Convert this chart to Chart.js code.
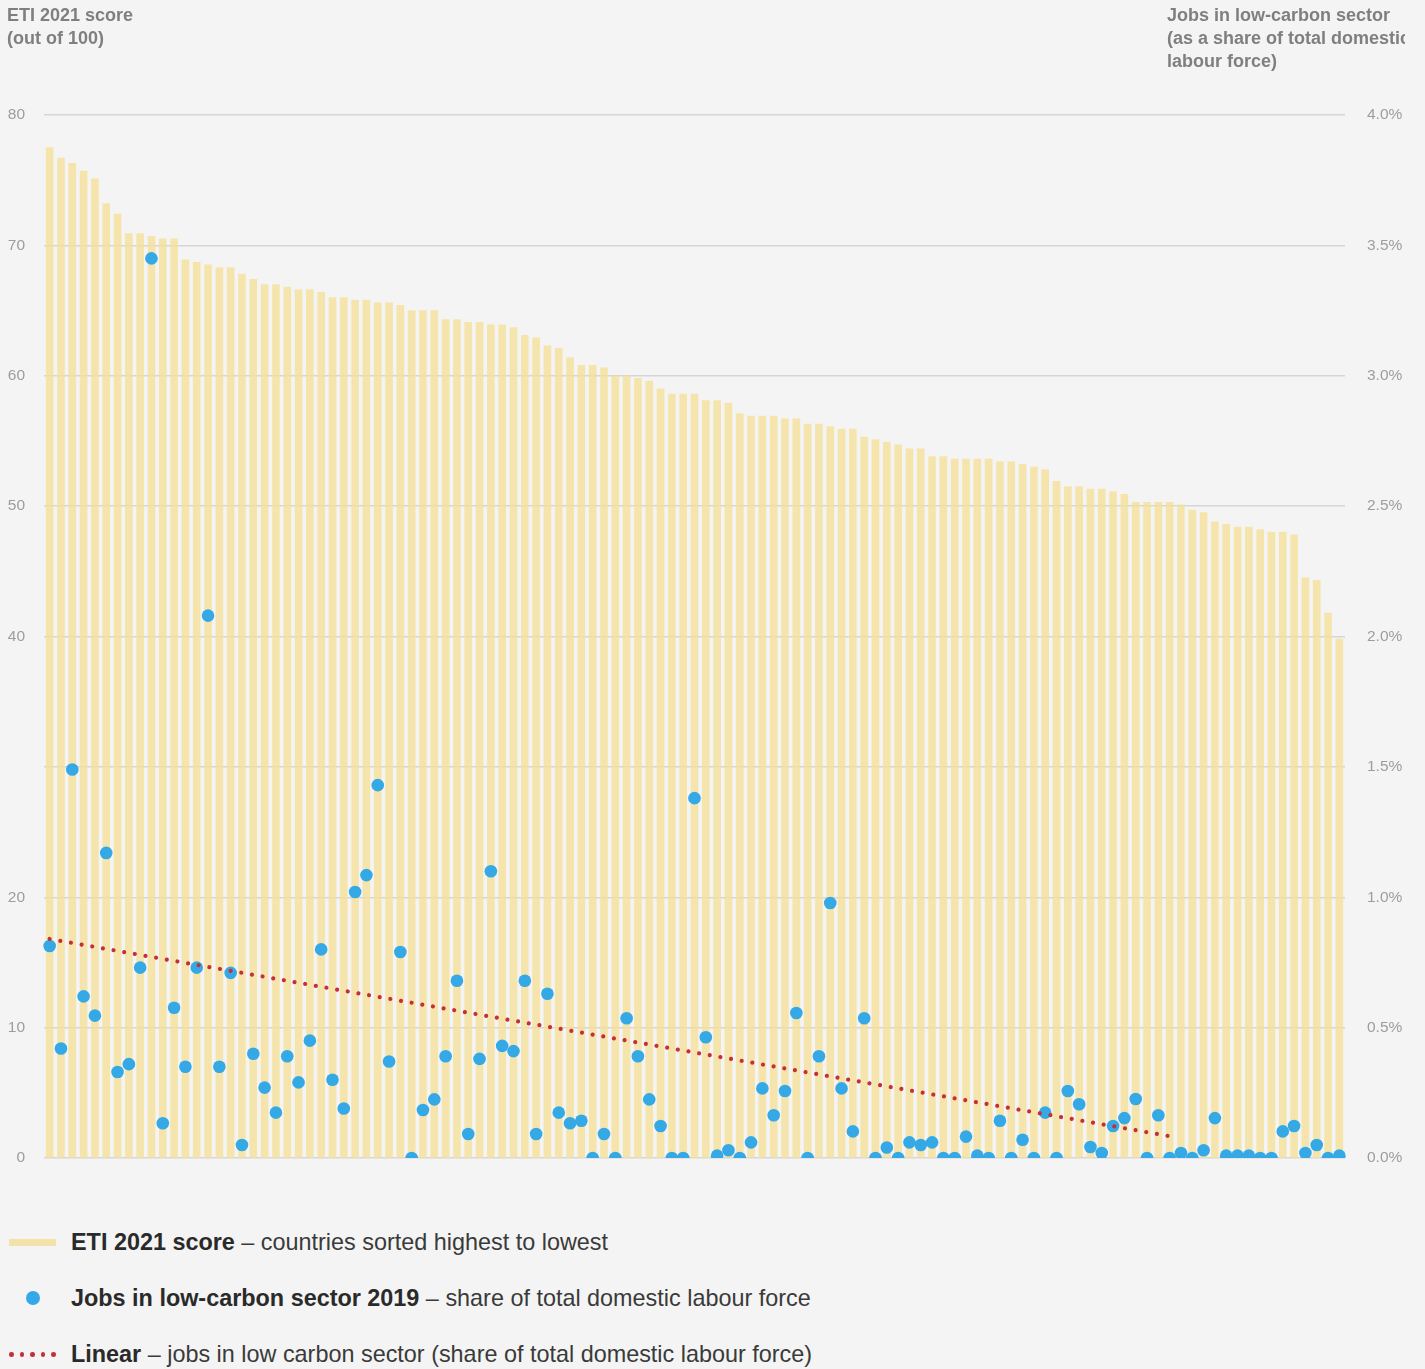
<!DOCTYPE html>
<html>
<head>
<meta charset="utf-8">
<script src="https://cdn.jsdelivr.net/npm/chart.js@4.4.1/dist/chart.umd.min.js"></script>
<style>
  html, body {
    margin: 0;
    padding: 0;
    width: 1425px;
    height: 1369px;
    overflow: hidden;
    background: #f4f4f4;
    font-family: "Liberation Sans", Arial, sans-serif;
  }
  #wrap { position: relative; width: 1425px; height: 1369px; }
  #chart { position: absolute; left: 0; top: 0; }
  .axis-title {
    position: absolute;
    font-size: 18px;
    line-height: 23px;
    font-weight: bold;
    color: #7f7f7f;
    white-space: nowrap;
    overflow: hidden;
  }
  .legend-row {
    position: absolute;
    left: 0;
    height: 23px;
    font-size: 23.4px;
    line-height: 23px;
    color: #3a3a3a;
    white-space: nowrap;
  }
  .legend-row b { color: #2a2a2a; }
  .legend-row .txt { position: absolute; left: 71px; top: 0; }
  .swatch-bar { position: absolute; left: 9px; top: 8px; width: 47px; height: 7px; background: #f4e3a9; }
  .swatch-dot { position: absolute; left: 26px; top: 4px; width: 14px; height: 14px; border-radius: 50%; background: #34a9e6; }
  .swatch-trend span { position: absolute; top: 9px; width: 4.5px; height: 4.5px; border-radius: 50%; background: #c62f3a; }
</style>
</head>
<body>
<div id="wrap">
  <canvas id="chart" width="1425" height="1175"></canvas>

  <div class="axis-title" style="left:7px; top:4px;">ETI 2021 score<br>(out of 100)</div>
  <div class="axis-title" style="left:1167px; top:4px; width:238px;">Jobs in low-carbon sector<br>(as a share of total domestic<br>labour force)</div>

  <div class="legend-row" style="top:1231px; width:700px;">
    <div class="swatch-bar"></div>
    <div class="txt"><b>ETI 2021 score</b> – countries sorted highest to lowest</div>
  </div>
  <div class="legend-row" style="top:1287px; width:900px;">
    <div class="swatch-dot"></div>
    <div class="txt"><b>Jobs in low-carbon sector 2019</b> – share of total domestic labour force</div>
  </div>
  <div class="legend-row swatch-trend" style="top:1343px; width:900px;">
    <span style="left:9px"></span><span style="left:19.5px"></span><span style="left:30px"></span><span style="left:40.5px"></span><span style="left:51px"></span>
    <div class="txt"><b>Linear</b> – jobs in low carbon sector (share of total domestic labour force)</div>
  </div>
</div>

<script>
// ETI 2021 score, countries sorted highest to lowest (left axis, out of 100)
const etiScores = [
  77.5, 76.7, 76.3, 75.7, 75.1, 73.2, 72.4, 70.9, 70.9, 70.7,
  70.5, 70.5, 68.9, 68.7, 68.5, 68.3, 68.3, 67.8, 67.4, 67.0,
  67.0, 66.8, 66.6, 66.6, 66.4, 66.0, 66.0, 65.8, 65.8, 65.6,
  65.6, 65.4, 65.0, 65.0, 65.0, 64.3, 64.3, 64.1, 64.1, 63.9,
  63.9, 63.7, 63.1, 62.9, 62.3, 62.1, 61.4, 60.8, 60.8, 60.6,
  60.0, 60.0, 59.8, 59.6, 59.0, 58.6, 58.6, 58.6, 58.1, 58.1,
  57.9, 57.1, 56.9, 56.9, 56.9, 56.7, 56.7, 56.3, 56.3, 56.1,
  55.9, 55.9, 55.3, 55.1, 54.9, 54.7, 54.4, 54.4, 53.8, 53.8,
  53.6, 53.6, 53.6, 53.6, 53.4, 53.4, 53.2, 53.0, 52.8, 51.9,
  51.5, 51.5, 51.3, 51.3, 51.1, 50.9, 50.3, 50.3, 50.3, 50.3,
  50.1, 49.7, 49.5, 48.8, 48.6, 48.4, 48.4, 48.2, 48.0, 48.0,
  47.8, 44.5, 44.3, 41.8, 39.8
];

// Jobs in low-carbon sector 2019, % of total domestic labour force (right axis)
const jobsShare = [
  0.813, 0.42, 1.49, 0.62, 0.546, 1.17, 0.33, 0.36, 0.73, 3.45,
  0.133, 0.576, 0.35, 0.73, 2.08, 0.35, 0.71, 0.05, 0.40, 0.27,
  0.174, 0.39, 0.29, 0.45, 0.80, 0.30, 0.19, 1.02, 1.085, 1.43,
  0.37, 0.79, 0.0, 0.184, 0.225, 0.39, 0.68, 0.092, 0.38, 1.10,
  0.43, 0.41, 0.68, 0.092, 0.63, 0.174, 0.133, 0.143, 0.0, 0.092,
  0.0, 0.536, 0.39, 0.225, 0.123, 0.0, 0.0, 1.38, 0.463, 0.009,
  0.03, 0.0, 0.06, 0.267, 0.164, 0.257, 0.556, 0.0, 0.39, 0.978,
  0.267, 0.102, 0.536, 0.0, 0.04, 0.0, 0.06, 0.05, 0.06, 0.0,
  0.0, 0.082, 0.009, 0.0, 0.143, 0.0, 0.07, 0.0, 0.174, 0.0,
  0.257, 0.206, 0.042, 0.019, 0.123, 0.153, 0.226, 0.0, 0.164, 0.0,
  0.019, 0.0, 0.03, 0.153, 0.009, 0.009, 0.009, 0.0, 0.0, 0.102,
  0.123, 0.019, 0.05, 0.0, 0.009
];

// Linear trend of jobs share: start / end (country rank index) and value (%)
const trendX = [0, 99.5];
const trendY = [0.84, 0.08];

// Tick labels
const leftTickLabels = ["0", "10", "20", "", "40", "50", "60", "70", "80"];
const rightTickLabels = ["0.0%", "0.5%", "1.0%", "1.5%", "2.0%", "2.5%", "3.0%", "3.5%", "4.0%"];

// country ranks as categories
const ranks = etiScores.map((_, i) => String(i + 1));

const tickFont = { family: "'Liberation Sans', Arial, sans-serif", size: 15.5 };
const tickColor = "#9d9d9d";

// fixed axis widths, no extra label overflow padding
function fixAxis(width) {
  return (scale) => {
    scale.width = width;
    scale.paddingTop = 0;
    scale.paddingBottom = 0;
  };
}

const ctx = document.getElementById("chart").getContext("2d");
const chart = new Chart(ctx, {
  type: "bar",
  data: {
    labels: ranks,
    datasets: [
      {
        type: "line",
        label: "Linear",
        data: trendX.map((x, i) => ({ x: x, y: trendY[i] })),
        xAxisID: "xTrend",
        yAxisID: "yRight",
        borderColor: "#c62f3a",
        borderWidth: 4.2,
        borderCapStyle: "round",
        borderDash: [0.01, 10.8],
        pointRadius: 0,
        fill: false,
        order: 0
      },
      {
        type: "line",
        label: "Jobs in low-carbon sector 2019",
        data: jobsShare,
        yAxisID: "yRight",
        showLine: false,
        pointRadius: 6.3,
        pointHoverRadius: 6.3,
        pointBorderWidth: 0,
        pointBackgroundColor: "#34a9e6",
        order: 1
      },
      {
        label: "ETI 2021 score",
        data: etiScores,
        yAxisID: "yLeft",
        backgroundColor: "rgba(245, 224, 148, 0.75)",
        grouped: false,
        barThickness: 7,
        order: 2
      }
    ]
  },
  options: {
    responsive: false,
    maintainAspectRatio: false,
    animation: false,
    devicePixelRatio: 1,
    layout: { padding: { top: 115, bottom: 17, left: 0, right: 0 } },
    plugins: {
      legend: { display: false },
      tooltip: { enabled: false }
    },
    scales: {
      x: {
        display: false,
        offset: true
      },
      xTrend: {
        type: "linear",
        display: false,
        offset: false,
        bounds: "data",
        min: -0.5,
        max: 114.5
      },
      yLeft: {
        position: "left",
        min: 0,
        max: 80,
        border: { display: false },
        grid: { color: "#d6d6d6", lineWidth: 1.4, drawTicks: false },
        ticks: {
          stepSize: 10,
          padding: 19,
          color: tickColor,
          font: tickFont,
          callback: (value, index) => leftTickLabels[index]
        },
        afterFit: fixAxis(44)
      },
      yRight: {
        position: "right",
        min: 0,
        max: 4,
        border: { display: false },
        grid: { display: false, drawTicks: false },
        ticks: {
          stepSize: 0.5,
          padding: 22,
          color: tickColor,
          font: tickFont,
          callback: (value, index) => rightTickLabels[index]
        },
        afterFit: fixAxis(80)
      }
    }
  }
});
</script>
</body>
</html>
